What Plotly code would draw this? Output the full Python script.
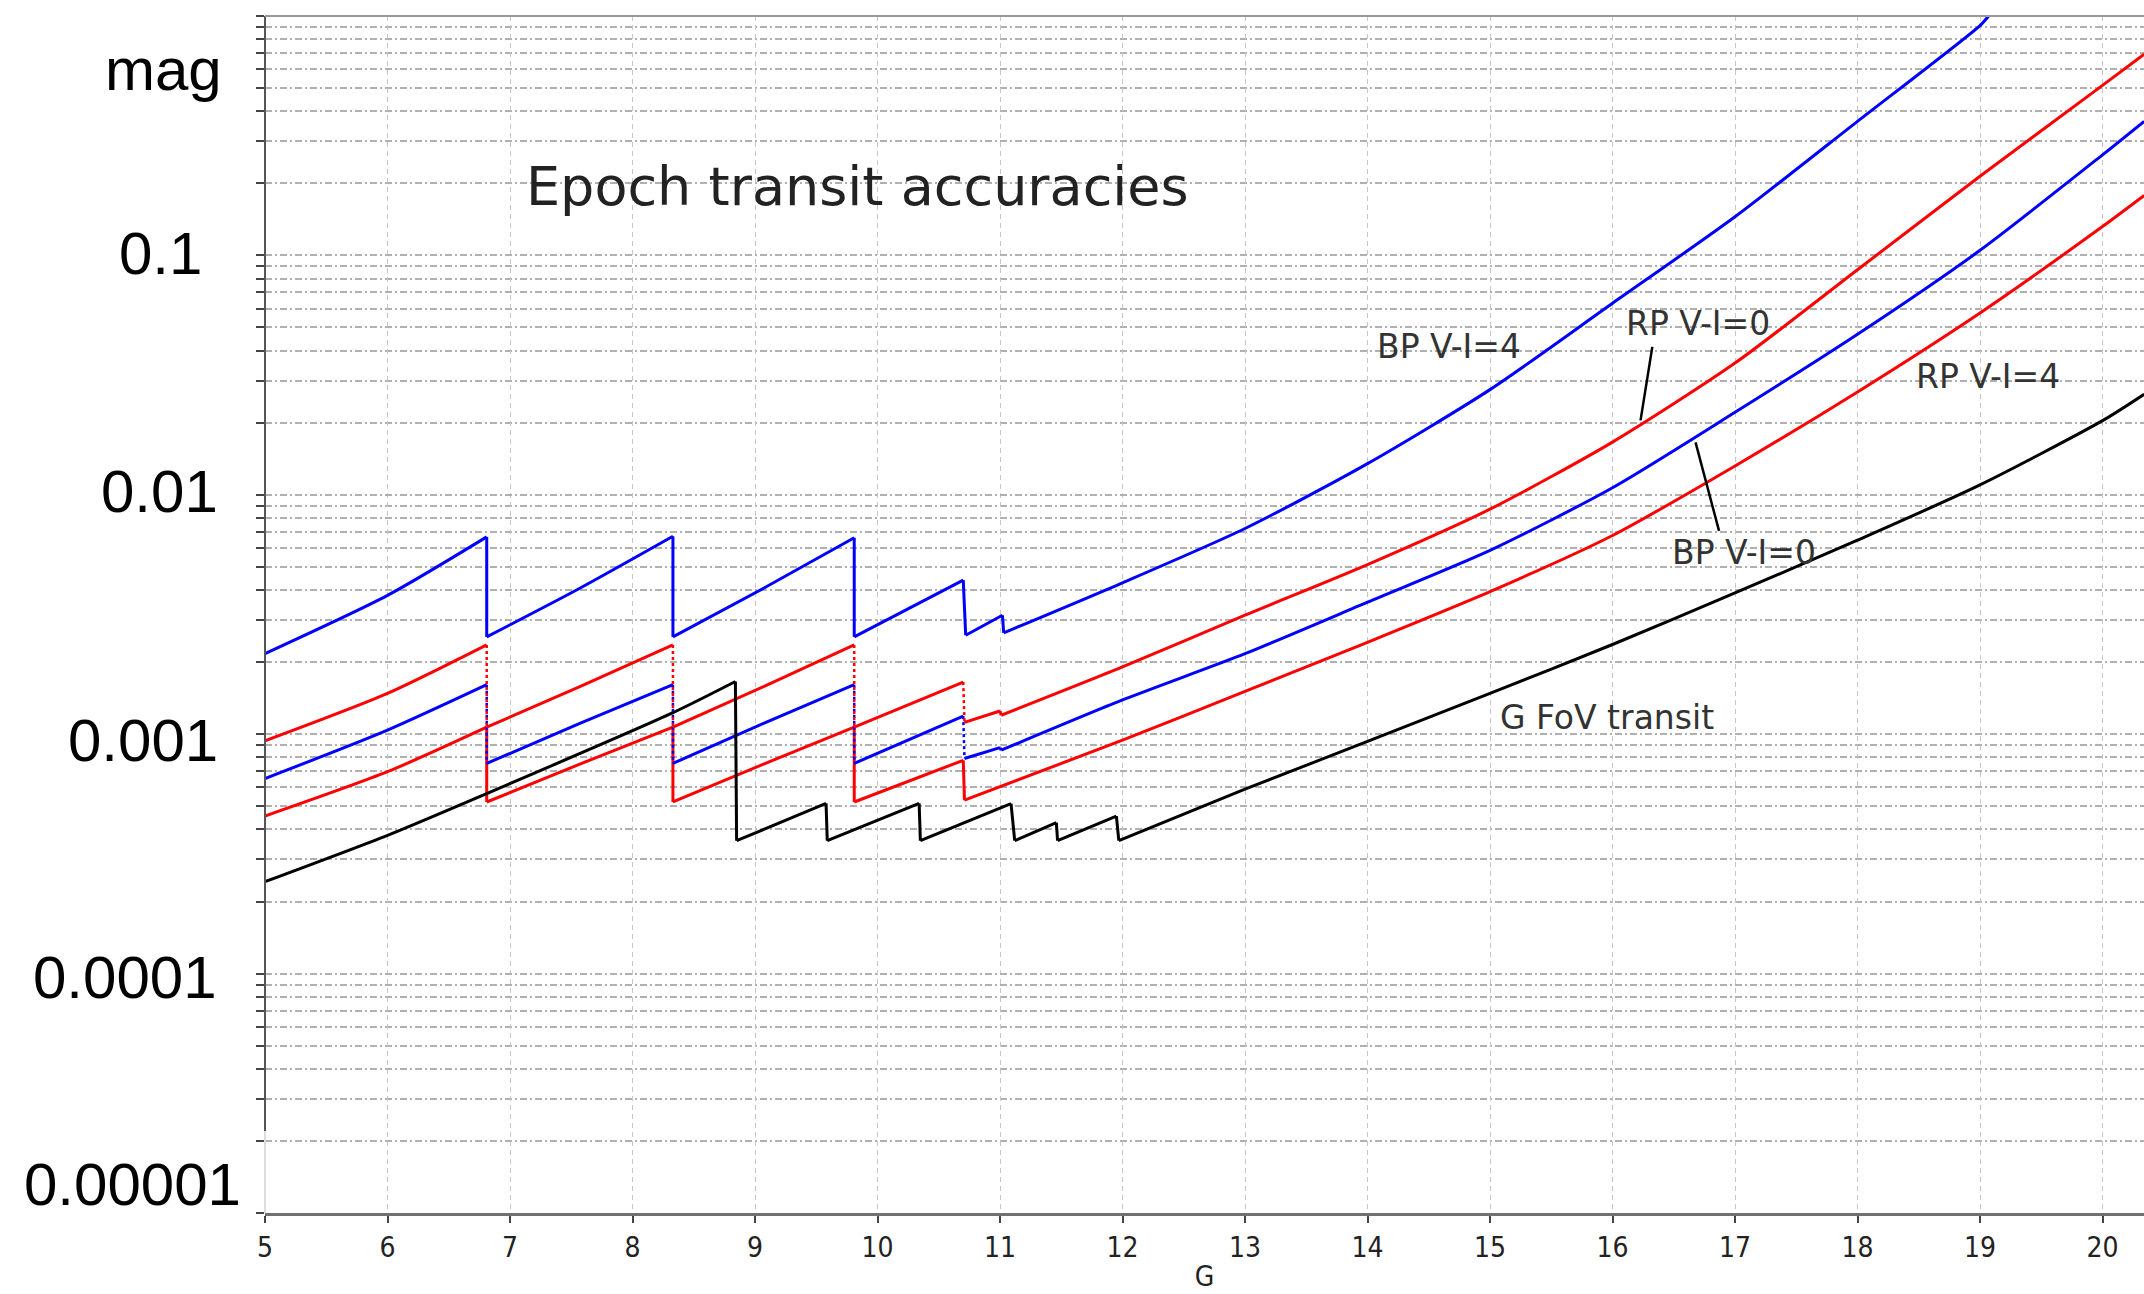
import math
import plotly.graph_objects as go

# ---- data: epoch transit accuracy (mag) versus G magnitude ----
# None in a series marks a jump that is drawn as a dotted vertical connector;
# two consecutive points at (almost) the same G form a solid vertical jump.
bp4_g = [5.0, 6.0, 6.81, 6.81, 7.57, 8.33, 8.33, 9.07, 9.81, 9.81, 10.70, 10.72,
         11.02, 11.03, 12.0, 13.0, 14.0, 15.0, 16.0, 17.0, 18.0, 19.0, 19.07]
bp4_v = [2.17e-3, 3.80e-3, 6.67e-3, 2.55e-3, 4.07e-3, 6.71e-3, 2.55e-3, 4.07e-3,
         6.62e-3, 2.55e-3, 4.40e-3, 2.59e-3, 3.14e-3, 2.65e-3, 4.29e-3, 7.23e-3,
         1.35e-2, 2.75e-2, 6.31e-2, 0.145, 0.363, 0.912, 1.0]

rp0_g = [5.0, 6.0, 6.81, None, 6.81, 7.57, 8.33, None, 8.33, 9.07, 9.81, None,
         9.81, 10.70, None, 10.71, 11.0, 11.01, 12.0, 13.0, 14.0, 15.0, 16.0,
         17.0, 18.0, 19.0, 20.0, 20.34]
rp0_v = [9.38e-4, 1.48e-3, 2.36e-3, None, 1.07e-3, 1.58e-3, 2.36e-3, None,
         1.07e-3, 1.58e-3, 2.36e-3, None, 1.07e-3, 1.65e-3, None, 1.12e-3,
         1.25e-3, 1.20e-3, 1.91e-3, 3.14e-3, 5.11e-3, 8.71e-3, 1.66e-2,
         3.55e-2, 8.71e-2, 0.214, 0.513, 0.692]

bp0_g = [5.0, 6.0, 6.81, None, 6.81, 7.57, 8.33, None, 8.33, 9.07, 9.81, None,
         9.81, 10.70, None, 10.71, 11.0, 11.01, 12.0, 13.0, 14.0, 15.0, 16.0,
         17.0, 18.0, 19.0, 20.0, 20.34]
bp0_v = [6.53e-4, 1.04e-3, 1.61e-3, None, 7.55e-4, 1.11e-3, 1.61e-3, None,
         7.55e-4, 1.11e-3, 1.61e-3, None, 7.55e-4, 1.19e-3, None, 7.92e-4,
         8.79e-4, 8.57e-4, 1.39e-3, 2.17e-3, 3.56e-3, 5.86e-3, 1.07e-2,
         2.21e-2, 4.68e-2, 0.105, 0.263, 0.363]

rp4_g = [5.0, 6.0, 6.81, 6.81, 7.57, 8.33, 8.33, 9.07, 9.81, 9.81, 10.70, 10.71,
         12.0, 13.0, 14.0, 15.0, 16.0, 17.0, 18.0, 19.0, 20.0, 20.34]
rp4_v = [4.55e-4, 6.97e-4, 1.07e-3, 5.21e-4, 7.50e-4, 1.07e-3, 5.21e-4, 7.50e-4,
         1.07e-3, 5.21e-4, 7.78e-4, 5.30e-4, 9.44e-4, 1.51e-3, 2.42e-3, 3.94e-3,
         6.76e-3, 1.32e-2, 2.69e-2, 5.75e-2, 0.132, 0.178]

gfov_g = [5.0, 6.0, 6.81, 8.33, 8.84, 8.85, 9.58, 9.59, 10.34, 10.35, 11.09,
          11.12, 11.46, 11.47, 11.95, 11.97, 13.0, 14.0, 15.0, 16.0, 17.0, 18.0,
          19.0, 20.0, 20.34]
gfov_v = [2.42e-4, 3.78e-4, 5.65e-4, 1.23e-3, 1.66e-3, 3.59e-4, 5.14e-4, 3.59e-4,
          5.14e-4, 3.59e-4, 5.13e-4, 3.59e-4, 4.27e-4, 3.59e-4, 4.55e-4, 3.59e-4,
          5.89e-4, 9.33e-4, 1.48e-3, 2.37e-3, 3.89e-3, 6.46e-3, 1.10e-2,
          2.04e-2, 2.63e-2]

y_tick_values = [1e-1, 1e-2, 1e-3, 1e-4, 1e-5]
y_tick_labels = ["0.1", "0.01", "0.001", "0.0001", "0.00001"]

BLUE = "#0000ff"
RED = "#ff0000"
BLACK = "#000000"


def split_series(xs, ys, jump_gap=0.05):
    """Split a series into smooth pieces plus solid and dotted vertical jumps."""
    smooth_x, smooth_y = [], []
    solid_x, solid_y = [], []
    dot_x, dot_y = [], []
    prev = None
    for i, (x, y) in enumerate(zip(xs, ys)):
        if x is None:
            dot_x += [xs[i - 1], xs[i + 1], None]
            dot_y += [ys[i - 1], ys[i + 1], None]
            smooth_x.append(None)
            smooth_y.append(None)
            prev = None
            continue
        if prev is not None and x - prev[0] < jump_gap:
            solid_x += [prev[0], x, None]
            solid_y += [prev[1], y, None]
            smooth_x.append(None)
            smooth_y.append(None)
        smooth_x.append(x)
        smooth_y.append(y)
        prev = (x, y)
    return (smooth_x, smooth_y), (solid_x, solid_y), (dot_x, dot_y)


fig = go.Figure()

for xs, ys, col in [(rp4_g, rp4_v, RED), (bp0_g, bp0_v, BLUE),
                    (rp0_g, rp0_v, RED), (bp4_g, bp4_v, BLUE),
                    (gfov_g, gfov_v, BLACK)]:
    (sx, sy), (jx, jy), (dx, dy) = split_series(xs, ys)
    fig.add_trace(go.Scatter(x=sx, y=sy, mode="lines", connectgaps=False,
                             line=dict(color=col, width=3, shape="spline",
                                       smoothing=0.7),
                             hoverinfo="skip"))
    if jx:
        fig.add_trace(go.Scatter(x=jx, y=jy, mode="lines",
                                 line=dict(color=col, width=3), hoverinfo="skip"))
    if dx:
        fig.add_trace(go.Scatter(x=dx, y=dy, mode="lines",
                                 line=dict(color=col, width=2.5, dash="dot"),
                                 hoverinfo="skip"))

# ---- axes ----
L, T, B = 265, 16, 81
W, H = 2144, 1294
plot_w = W - L
x_max = 5 + plot_w / 122.5

hgrid = dict(showgrid=True, gridcolor="#b0b0b0", gridwidth=1.5,
             griddash="7px,3px,2px,3px")
tick_font_family = "Liberation Sans Narrow, DejaVu Sans Condensed, sans-serif"

fig.update_layout(
    width=W, height=H,
    margin=dict(l=L, r=0, t=T, b=B, pad=0),
    plot_bgcolor="white", paper_bgcolor="white",
    showlegend=False,
    xaxis=dict(
        range=[5, x_max], tick0=5, dtick=1,
        showgrid=True, gridcolor="#c6c6c6", gridwidth=1, griddash="5px,4px",
        zeroline=False,
        showline=True, linecolor="#707070", linewidth=3,
        ticks="outside", ticklen=7, tickwidth=2, tickcolor="#444",
        tickfont=dict(family=tick_font_family, size=28, color="#222"),
        title=dict(text="G", standoff=4,
                   font=dict(family=tick_font_family, size=28, color="#222")),
    ),
    yaxis=dict(
        type="log", range=[-5, 0], dtick=1,
        showticklabels=False, zeroline=False, showline=False,
        ticks="outside", ticklen=8, tickwidth=2, tickcolor="#444",
        minor=dict(dtick="D1", ticks="outside", ticklen=8, tickwidth=2,
                   tickcolor="#444", **hgrid),
        **hgrid,
    ),
)

# left axis line (dark down to ~2.2e-5, faint below) and top frame line
split = (math.log10(2.2e-5) + 5) / 5
fig.add_shape(type="line", xref="paper", yref="paper", x0=0, x1=0, y0=split, y1=1,
              line=dict(color="#555", width=2), layer="above")
fig.add_shape(type="line", xref="paper", yref="paper", x0=0, x1=0, y0=0, y1=split,
              line=dict(color="#dcdcdc", width=2), layer="above")
fig.add_shape(type="line", xref="paper", yref="paper", x0=0, x1=1, y0=1, y1=1,
              line=dict(color="#999", width=2), layer="above")

# ---- large y tick labels ----
big = dict(family="Liberation Sans, Arial, sans-serif", size=60, color="#000")
label_xshift = [-61, -45, -45, -46, -22]
label_yshift = [2, 3, -6, -4, 29]
for v, txt, dx, dy in zip(y_tick_values, y_tick_labels, label_xshift, label_yshift):
    fig.add_annotation(xref="paper", yref="y", x=0, y=math.log10(v), text=txt,
                       showarrow=False, xanchor="right", yanchor="middle",
                       xshift=dx, yshift=dy, font=big)
fig.add_annotation(xref="paper", yref="y", x=0, y=0, text="mag", showarrow=False,
                   xanchor="right", yanchor="middle", xshift=-41, yshift=-53, font=big)

# ---- title and curve labels ----
fig.add_annotation(xref="x", yref="y", x=7.159, y=-0.712, text="Epoch transit accuracies",
                   showarrow=False, xanchor="left", yanchor="middle", xshift=-5,
                   font=dict(family="DejaVu Sans", size=54, color="#222"))

lab_font = dict(family="DejaVu Sans", size=33, color="#333")
curve_labels = [("BP V-I=4", 14.098, -1.380), ("RP V-I=0", 16.131, -1.284),
                ("RP V-I=4", 18.506, -1.505), ("BP V-I=0", 16.514, -2.240),
                ("G FoV transit", 15.102, -2.931)]
for txt, gx, ly in curve_labels:
    fig.add_annotation(xref="x", yref="y", x=gx, y=ly, text=txt, showarrow=False,
                       xanchor="left", yanchor="middle", xshift=-5, font=lab_font)

# leader lines from labels to their curves
for tip, tail in [((16.229, -1.689), (16.327, -1.376)),
                  ((16.678, -1.781), (16.873, -2.157))]:
    fig.add_annotation(xref="x", yref="y", x=tip[0], y=tip[1],
                       axref="x", ayref="y", ax=tail[0], ay=tail[1],
                       text="", showarrow=True, arrowhead=0, arrowwidth=2.5,
                       arrowcolor="#000", standoff=0, startstandoff=0)

fig.write_html("out.html")
